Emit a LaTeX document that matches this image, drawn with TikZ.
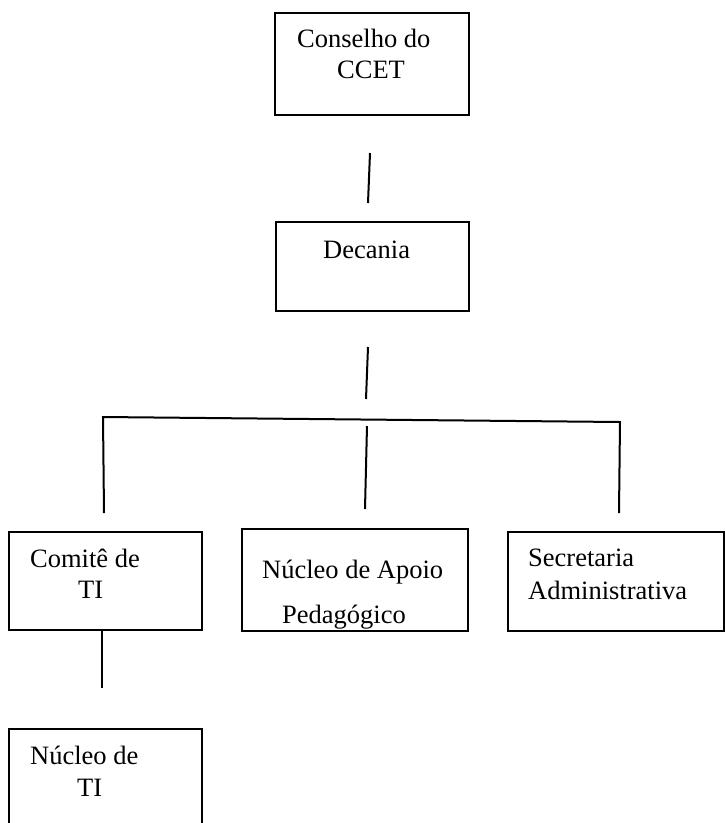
\documentclass[tikz,border=0pt]{standalone}
\usepackage{fontspec}
\setmainfont{Liberation Serif}
\usetikzlibrary{positioning,calc}

\begin{document}
\begin{tikzpicture}[
  x=1pt,y=-1pt,
  font=\fontsize{26.5}{31}\selectfont,
  box/.style={draw,line width=1.4pt,inner sep=0pt},
  lbl/.style={anchor=base west,inner sep=0pt},
  ln/.style={line width=2pt}]
  \useasboundingbox (0,0) rectangle (725,823);
  % boxes
  \node[box,minimum width=194pt,minimum height=102pt] (conselho) at (372,64) {};
  \node[box,minimum width=193pt,minimum height=89pt] (decania) at (372.5,266.5) {};
  \node[box,minimum width=193pt,minimum height=98pt] (comite) at (105.5,581) {};
  \node[box,minimum width=226pt,minimum height=102pt] (nap) at (355,580) {};
  \node[box,minimum width=216pt,minimum height=99pt] (secr) at (616,581.5) {};
  \node[box,minimum width=193pt,minimum height=111pt] (nucti) at (105.5,784.5) {};
  % texts
  \node[lbl] (t-cons1) at (297,47) {Conselho do};
  \node[lbl] (t-cons2) at (337,78) {CCET};
  \node[lbl] (t-dec) at (323,258) {Decania};
  \node[lbl] (t-com1) at (30,567) {Comitê de};
  \node[lbl] (t-com2) at (78,598) {TI};
  \node[lbl] (t-nap1) at (262,578) {Núcleo de Apoio};
  \node[lbl] (t-nap2) at (282,623) {Pedagógico};
  \node[lbl] (t-sec1) at (528,566) {Secretaria};
  \node[lbl] (t-sec2) at (528,599) {Administrativa};
  \node[lbl] (t-nti1) at (30,764) {Núcleo de};
  \node[lbl] (t-nti2) at (77,796) {TI};
  % connector ends
  \coordinate (a1) at (370,153); \coordinate (a2) at (368,203);
  \coordinate (b1) at (368,347); \coordinate (b2) at (366,399);
  \coordinate (hl) at (103,417); \coordinate (hr) at (620,422);
  \coordinate (vl) at (104,513); \coordinate (vm1) at (367,426);
  \coordinate (vm2) at (365,509); \coordinate (vr) at (619,513);
  \coordinate (d2) at (102,688);
  % connectors
  \draw[ln] (a1) -- (a2);
  \draw[ln] (b1) -- (b2);
  \draw[ln] (vl) -- (hl) -- (hr) -- (vr);
  \draw[ln] (vm1) -- (vm2);
  \draw[ln] (comite.south -| d2) -- (d2);
\end{tikzpicture}
\end{document}
